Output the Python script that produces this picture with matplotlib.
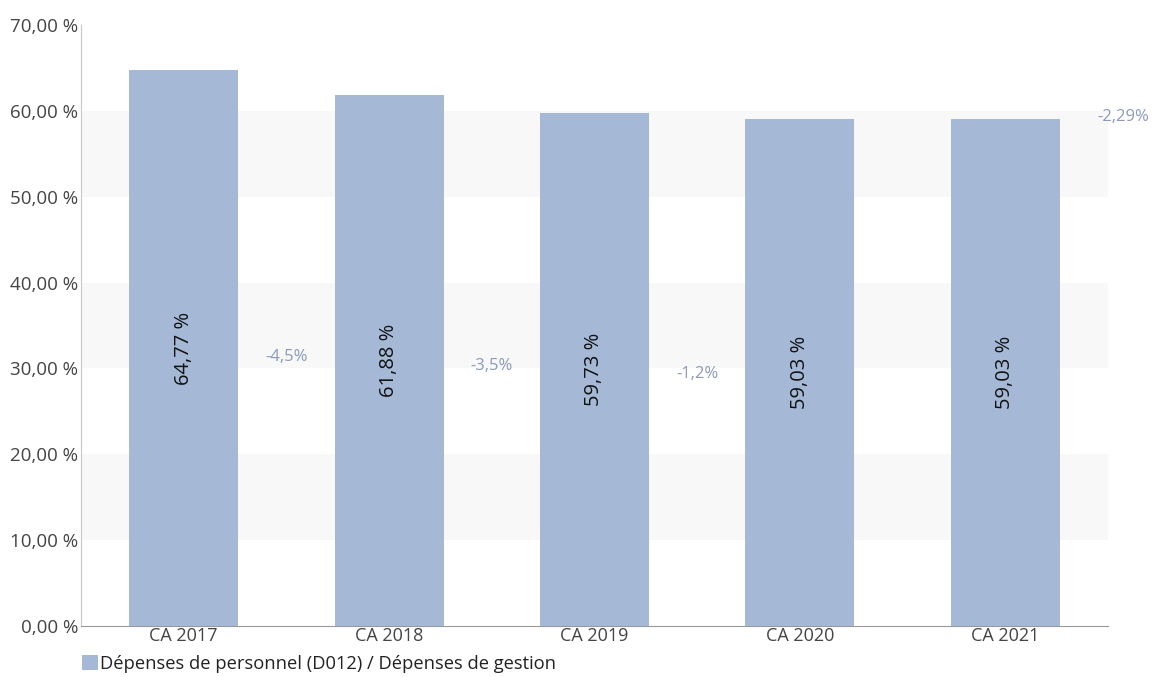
import matplotlib
matplotlib.use('Agg')
import matplotlib.pyplot as plt
from matplotlib.patches import Patch

plt.rcParams['font.family'] = ['Open Sans', 'DejaVu Sans']

categories = ['CA 2017', 'CA 2018', 'CA 2019', 'CA 2020', 'CA 2021']
values = [64.77, 61.88, 59.73, 59.03, 59.03]
bar_labels = ['64,77 %', '61,88 %', '59,73 %', '59,03 %', '59,03 %']
changes = ['-4,5%', '-3,5%', '-1,2%']
change_y = [31.3, 30.3, 29.4]
total_change = '-2,29%'
yticks = [0, 10, 20, 30, 40, 50, 60, 70]
legend_label = 'Dépenses de personnel (D012) / Dépenses de gestion'

bar_color = '#a5b9d7'
grey = '#c8c8c8'

fig = plt.figure(figsize=(11.53, 6.77), dpi=100)
ax = fig.add_axes([81 / 1153, 1 - 626 / 677, 1027 / 1153, 601 / 677])

# alternating bands
for lo in (10, 30, 50):
    ax.axhspan(lo, lo + 10, color='#f8f8f8', zorder=0, lw=0)

x = range(len(categories))
ax.bar(x, values, width=0.53, color=bar_color, zorder=2)

for i, (v, lab) in enumerate(zip(values, bar_labels)):
    ax.text(i, v / 2, lab, rotation=90, ha='center', va='center',
            fontsize=14.5, color='#111111', zorder=3)

for i, (c, cy) in enumerate(zip(changes, change_y)):
    ax.text(i + 0.5, cy, c, ha='center', va='center', fontsize=12,
            color='#8a9ab8', zorder=3)

ax.text(4.45, 59.3, total_change, ha='left', va='center', fontsize=12,
        color='#8a9ab8', clip_on=False)

ax.set_xlim(-0.5, 4.5)
ax.set_ylim(0, 70)
ax.set_yticks(yticks)
ax.set_yticklabels([f'{t},00 %' for t in yticks], fontsize=13.5, color='#444444')
ax.set_xticks(list(x))
ax.set_xticklabels(categories, fontsize=13, color='#444444')
ax.tick_params(axis='y', length=0, pad=2)
ax.tick_params(axis='x', length=0, pad=1)

for s in ('top', 'right'):
    ax.spines[s].set_visible(False)
ax.spines['left'].set_color(grey)
ax.spines['bottom'].set_color('#999999')

fig.legend(handles=[Patch(facecolor=bar_color, label=legend_label)],
           loc='lower left', bbox_to_anchor=(82 / 1153, 4 / 677),
           frameon=False, fontsize=13.2, handlelength=0.85, handleheight=0.85,
           handletextpad=0.15, borderpad=0, borderaxespad=0,
           labelcolor='#222222')

fig.savefig('out.png', dpi=100, facecolor='white')
